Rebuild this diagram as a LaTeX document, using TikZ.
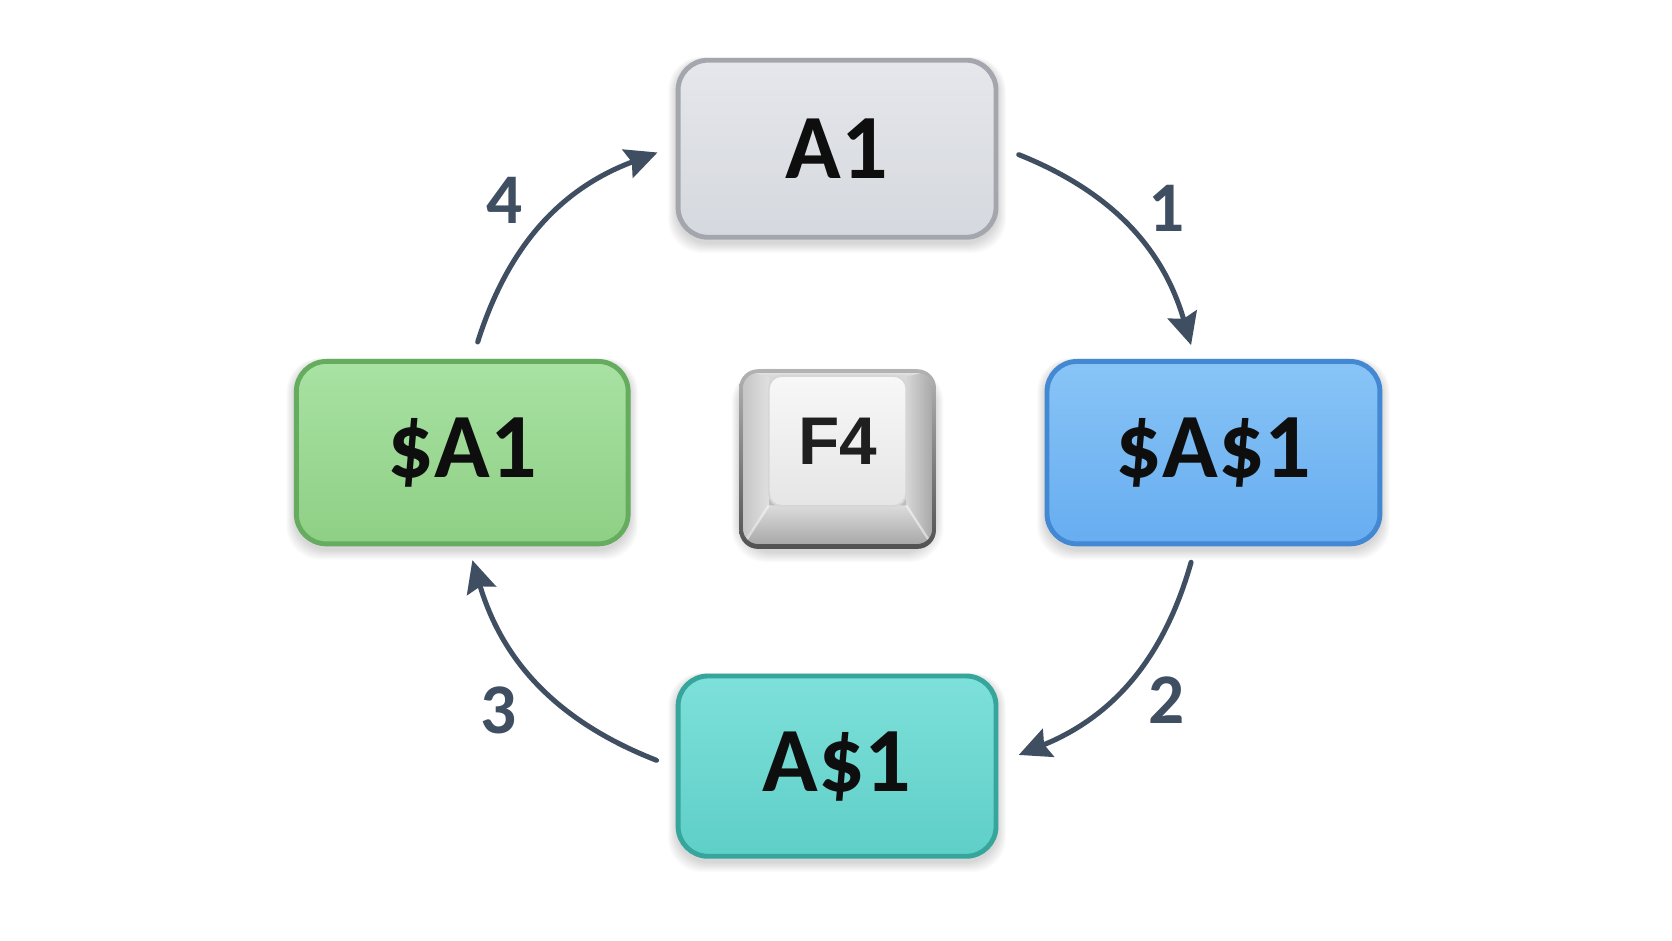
\documentclass[tikz,border=0pt]{standalone}
\usepackage{fontspec}
\setmainfont{Carlito}
\newfontfamily\keyfont{Liberation Sans}
\usetikzlibrary{arrows.meta,calc}
\pgfdeclarelayer{bg}
\pgfsetlayers{bg,main}
\definecolor{a1t}{HTML}{E5E7EB}
\definecolor{a1b}{HTML}{D5D8DE}
\definecolor{a1d}{HTML}{A3A7AD}
\definecolor{blt}{HTML}{88C4F6}
\definecolor{blb}{HTML}{67ADF0}
\definecolor{bld}{HTML}{4388D2}
\definecolor{grt}{HTML}{A9E2A3}
\definecolor{grb}{HTML}{8ECF85}
\definecolor{grd}{HTML}{66AC5E}
\definecolor{tet}{HTML}{7EE0DA}
\definecolor{teb}{HTML}{5ECFC7}
\definecolor{ted}{HTML}{36A59C}
\definecolor{arrc}{HTML}{3F4F61}
\definecolor{txt}{HTML}{0E0E0E}
\begin{document}
\begin{tikzpicture}[x=0.01cm,y=0.01cm,
  box/.style={rounded corners=8pt, line width=1.3pt, minimum width=2.98cm,
    minimum height=1.66cm, inner sep=0pt,
    font=\fontsize{24.5}{30}\selectfont\bfseries, text=txt},
  arr/.style={draw=arrc, line width=1.35pt, line cap=round,
    -{Stealth[length=8.5pt,width=8pt,inset=1.2pt]}},
  num/.style={text=arrc, font=\fontsize{19}{22}\selectfont\bfseries, inner sep=0pt},
  shd/.style={black, opacity=0.018, rounded corners=9pt}]
\useasboundingbox (0,0) rectangle (1568,-882);

% boxes
\node[box, draw=a1d, top color=a1t, bottom color=a1b] (A1) at (785,-139.5) {A1};
\node[box, draw=bld, top color=blt, bottom color=blb, minimum width=3.12cm, minimum height=1.71cm] (AA) at (1138,-424.5) {\$A\$1};
\node[box, draw=grd, top color=grt, bottom color=grb, minimum width=3.11cm, minimum height=1.71cm] (Ab) at (433.5,-424.5) {\$A1};
\node[box, draw=ted, top color=tet, bottom color=teb, minimum height=1.69cm] (Ad) at (785,-718.5) {A\$1};

% F4 key
\node[inner sep=0pt, minimum width=1.83cm, minimum height=1.67cm] (key) at (785.5,-430.5) {};
\path[rounded corners=5pt, top color=black!30, bottom color=black!68] (key.north west) rectangle (key.south east);
\begin{scope}
  \clip[rounded corners=4pt] (697,-350) rectangle (874,-510);
  \shade[top color=black!14, bottom color=black!30] (694,-347) rectangle (877,-514);
  \shade[left color=black!24, right color=black!12] (694,-347) -- (721,-353) -- (721,-474) -- (694,-514) -- cycle;
  \shade[left color=black!16, right color=black!36] (877,-347) -- (850,-353) -- (850,-474) -- (877,-514) -- cycle;
  \shade[top color=black!14, bottom color=black!36] (721,-474) -- (850,-474) -- (877,-514) -- (694,-514) -- cycle;
  \shade[top color=black!8, bottom color=black!16] (694,-347) -- (877,-347) -- (850,-353) -- (721,-353) -- cycle;
  \draw[white, opacity=0.5, line width=0.6pt] (721,-474) -- (699,-508) (850,-474) -- (872,-508);
\end{scope}
\node[draw=black!16, line width=0.5pt, rounded corners=3.5pt, top color=black!3, bottom color=black!10,
  minimum width=1.29cm, minimum height=1.22cm, inner sep=0pt,
  font=\fontsize{18}{22}\keyfont\bfseries, text=black!88] (F4) at (785.5,-413.5) {\raisebox{-1.5pt}{F4}};

% background and soft shadows
\begin{pgfonlayer}{bg}
  \fill[white] (0,0) rectangle (1568,-882);
  \foreach \n in {A1,AA,Ab,Ad,key}{
    \foreach \i in {0,...,7}{
      \fill[shd] ($(\n.south west)+(-\i,-4-1.2*\i)$) rectangle ($(\n.north east)+(\i,-2+0.4*\i)$);
    }
  }
\end{pgfonlayer}

% arrows
\coordinate (s1) at ($(A1.east)+(19,-5.5)$);
\coordinate (e1) at ($(AA.north)+(-21,13)$);
\coordinate (s2) at ($(AA.south)+(-21,-15)$);
\coordinate (e2) at ($(Ad.east)+(19,10.5)$);
\coordinate (s3) at ($(Ad.west)+(-18,5.5)$);
\coordinate (e3) at ($(Ab.south)+(9.5,-13)$);
\coordinate (s4) at ($(Ab.north)+(14.5,16)$);
\coordinate (e4) at ($(A1.west)+(-17,-3.5)$);
\draw[arr] (s1) to[bend left=26] (e1);
\draw[arr] (s2) to[bend left=26] (e2);
\draw[arr] (s3) to[bend left=26] (e3);
\draw[arr] (s4) to[bend left=26] (e4);

\node[num] (n1) at (1094,-195) {1};
\node[num] (n2) at (1094,-657) {2};
\node[num] (n3) at (468,-666) {3};
\node[num] (n4) at (473,-188) {4};
\end{tikzpicture}
\end{document}
